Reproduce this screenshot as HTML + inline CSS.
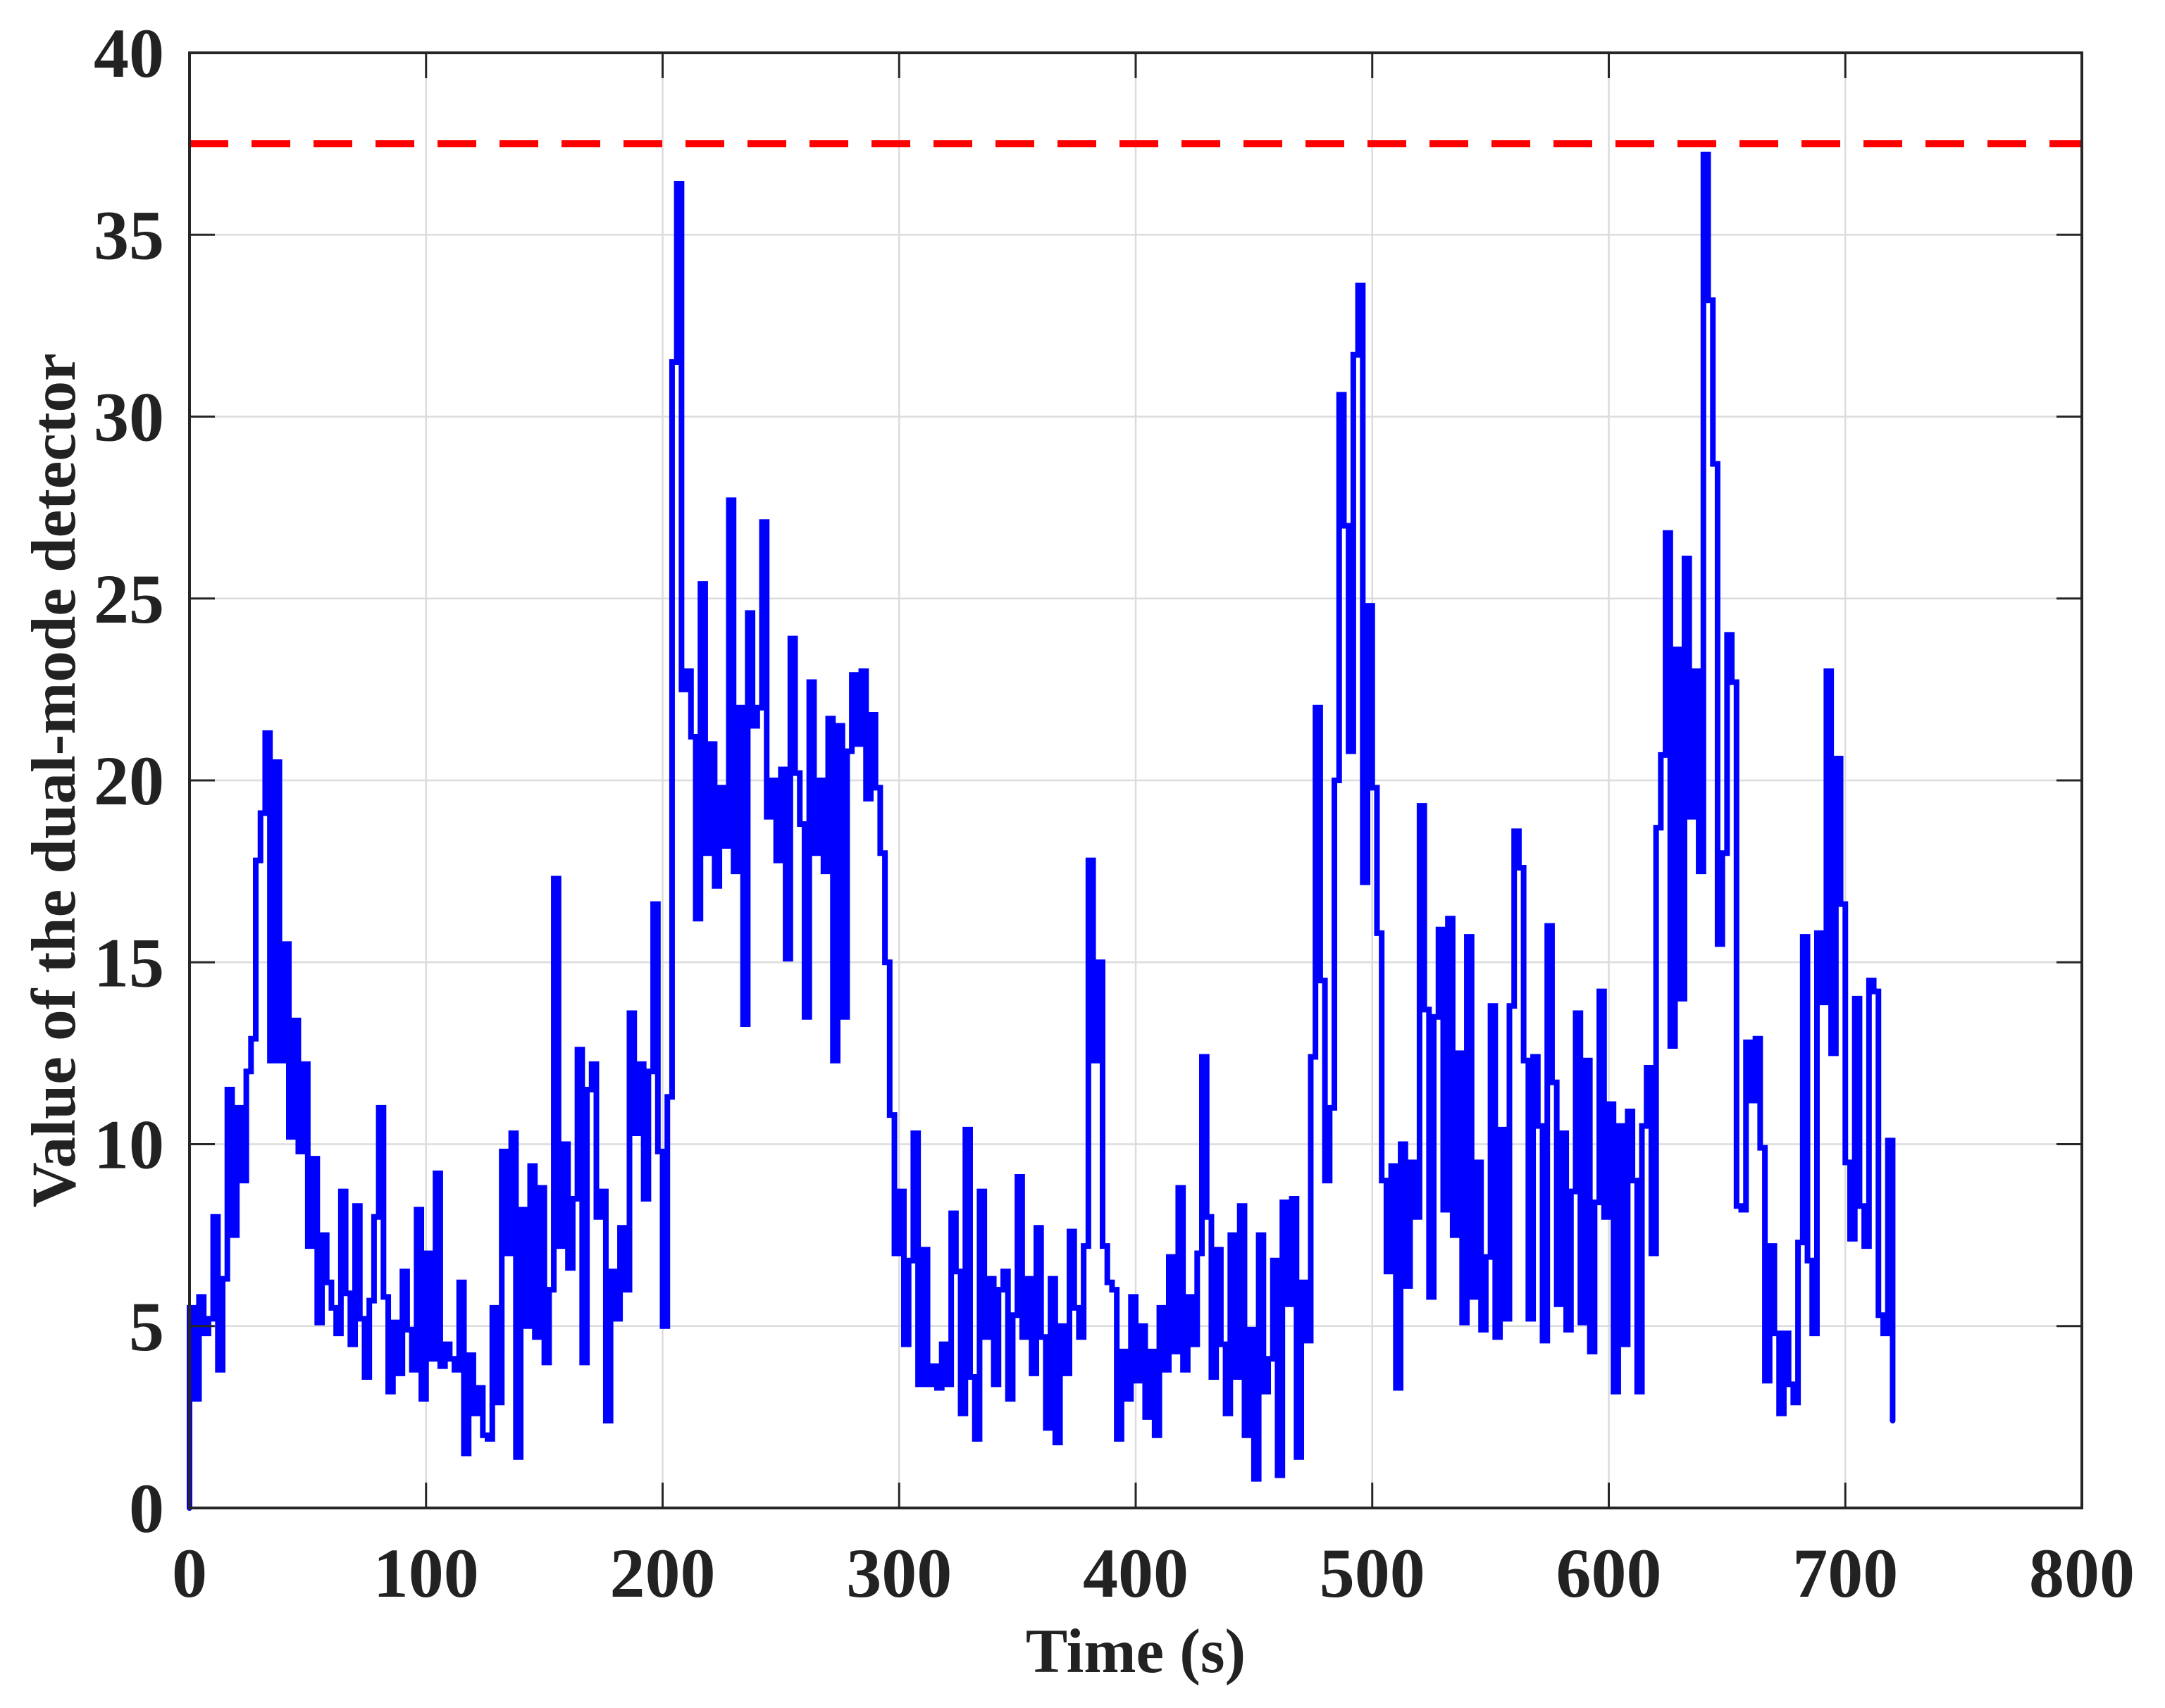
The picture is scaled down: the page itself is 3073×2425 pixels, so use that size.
<!DOCTYPE html>
<html><head><meta charset="utf-8"><style>
html,body{margin:0;padding:0;background:#fff;}
svg{display:block;}
text{font-family:"Liberation Serif",serif;font-weight:bold;fill:#222;}
</style></head><body>
<svg id="chart" width="3073" height="2425" viewBox="0 0 3073 2425" xmlns="http://www.w3.org/2000/svg">
<g id="grid"></g>
<g id="series"></g>
<rect x="269" y="75" width="2686" height="2066" fill="none" stroke="#262626" stroke-width="4"/>
<g id="ticks"></g>
<text x="1612" y="2374" font-size="89" text-anchor="middle">Time (s)</text>
<text x="0" y="0" font-size="89" text-anchor="middle" transform="translate(106,1108) rotate(-90)">Value of the dual-mode detector</text>
</svg>
<script>
const xTicks=[0,100,200,300,400,500,600,700,800];
const yTicks=[0,5,10,15,20,25,30,35,40];
const threshold=37.5;
const stepSeconds=2;
const values=[
5.5,3,5.8,4.8,5.2,8,3.8,6.3,11.5,7.5,
11,9,12,12.9,17.8,19.1,21.3,12.3,20.5,12.3,
15.5,10.2,13.4,9.8,12.2,7.2,9.6,5.1,7.5,6.2,
5.5,4.8,8.7,5.9,4.5,8.3,5.2,3.6,5.7,8,
11,5.8,3.2,5.1,3.7,6.5,4.9,3.8,8.2,3,
7,4.1,9.2,3.9,4.5,4.1,3.8,6.2,1.5,4.2,
2.6,3.3,2,1.9,5.5,2.9,9.8,7,10.3,1.4,
8.2,5,9.4,4.7,8.8,4,6,17.3,7.2,10,
6.6,8.5,12.6,4,11.5,12.2,8,8.7,2.4,6.5,
5.2,7.7,6,13.6,10.3,12.2,8.5,12,16.6,9.8,
5,11.3,31.5,36.4,22.5,23,21.2,16.2,25.4,18,
21,17.1,19.8,18.2,27.7,17.5,22,13.3,24.6,21.5,
22,27.1,19,20,17.8,20.3,15.1,23.9,20.2,18.8,
13.5,22.7,18,20,17.5,21.7,12.3,21.5,13.5,20.8,
22.9,21,23,19.5,21.8,19.8,18,15,10.8,7,
8.7,4.5,6.8,10.3,3.4,7.1,3.4,3.9,3.3,4.5,
3.4,8.1,6.5,2.6,10.4,3.6,1.9,8.7,4.7,6.3,
3.4,6,6.5,3,5.3,9.1,4.7,6.3,3.7,7.7,
4.7,2.2,6.3,1.8,5,3.7,7.6,5.5,4.7,7.2,
17.8,12.3,15,7.2,6.2,6,1.9,4.3,3,5.8,
3.5,5,2.5,4.3,2,5.5,3.8,6.9,4.3,8.8,
3.8,5.8,4.5,7,12.4,8,3.6,7.1,4.5,2.6,
7.5,3.6,8.3,2,4.9,0.8,7.5,3.2,4.1,6.8,
0.9,8.4,5.6,8.5,1.4,6.2,4.6,12.4,22,14.5,
9,11,20,30.6,27,20.8,31.7,33.6,17.2,24.8,
19.8,15.8,9,6.5,9.4,3.3,10,6.1,9.5,8,
19.3,13.7,5.8,13.5,15.9,8.2,16.2,7.5,12.5,5.1,
15.7,5.8,9.5,4.9,6.9,13.8,4.7,10.4,5.2,13.8,
18.6,17.6,12.3,5.2,12.4,10.5,4.6,16,11.7,5.6,
10.3,4.9,8.7,13.6,5.1,12.3,4.3,8.4,14.2,8,
11.1,3.2,10.5,4.5,10.9,9,3.2,10.5,12.1,7,
18.7,20.7,26.8,12.7,23.6,14,26.1,19,23,17.5,
37.2,33.2,28.7,15.5,18,24,22.7,8.3,8.2,12.8,
11.2,12.9,9.9,3.5,7.2,4.8,2.6,4.8,3.4,2.9,
7.3,15.7,6.8,4.8,15.8,13.9,23,12.5,20.6,16.6,
9.5,7.4,14,8.3,7.2,14.5,14.2,5.3,4.8,10.1,
2.4];
const L=269,R=2955,T=75,B=2141;
const X=v=>L+(v-0)/(800-0)*(R-L);
const Y=v=>B-(v-0)/(40-0)*(B-T);
const NS='http://www.w3.org/2000/svg';
function mk(tag,attrs,parent){const e=document.createElementNS(NS,tag);for(const k in attrs)e.setAttribute(k,attrs[k]);parent.appendChild(e);return e;}
const grid=document.getElementById('grid'),ticks=document.getElementById('ticks'),series=document.getElementById('series');
xTicks.forEach(t=>{
  const g=mk('line',{x1:X(t),x2:X(t),y1:T,y2:B,stroke:'#dcdcdc','stroke-width':2.5},grid);
  
  
  const k=mk('line',{x1:X(t),x2:X(t),y1:B,y2:B-36,stroke:'#262626','stroke-width':3},ticks);
  
  
  const k2=mk('line',{x1:X(t),x2:X(t),y1:T,y2:T+36,stroke:'#262626','stroke-width':3},ticks);
  
  
  const lb=mk('text',{x:X(t),y:2267,'font-size':100,'text-anchor':'middle'},ticks);
  lb.textContent=t;
  
  
});
yTicks.forEach(t=>{
  const g=mk('line',{x1:L,x2:R,y1:Y(t),y2:Y(t),stroke:'#dcdcdc','stroke-width':2.5},grid);
  
  
  const k=mk('line',{x1:L,x2:L+36,y1:Y(t),y2:Y(t),stroke:'#262626','stroke-width':3},ticks);
  
  
  const k2=mk('line',{x1:R,x2:R-36,y1:Y(t),y2:Y(t),stroke:'#262626','stroke-width':3},ticks);
  
  
  const lb=mk('text',{x:233,y:Y(t)+34,'font-size':100,'text-anchor':'end'},ticks);
  lb.textContent=t;
  
  
});
let d='M'+X(0)+' '+Y(0)+' L'+X(0)+' '+Y(values[0]);
for(let i=0;i<values.length;i++){
  const t0=i*stepSeconds, t1=Math.min((i+1)*stepSeconds,720);
  if(i>0)d+=' L'+X(t0)+' '+Y(values[i]);
  d+=' L'+X(t1)+' '+Y(values[i]);
}
const p=mk('path',{d:d,fill:'none',stroke:'#0000ff','stroke-width':8,'stroke-linejoin':'miter','stroke-linecap':'round'},series);


const th=mk('line',{x1:L,x2:R,y1:Y(threshold),y2:Y(threshold),stroke:'#ff0000','stroke-width':10,'stroke-dasharray':'55 33'},series);


</script>
</body></html>
